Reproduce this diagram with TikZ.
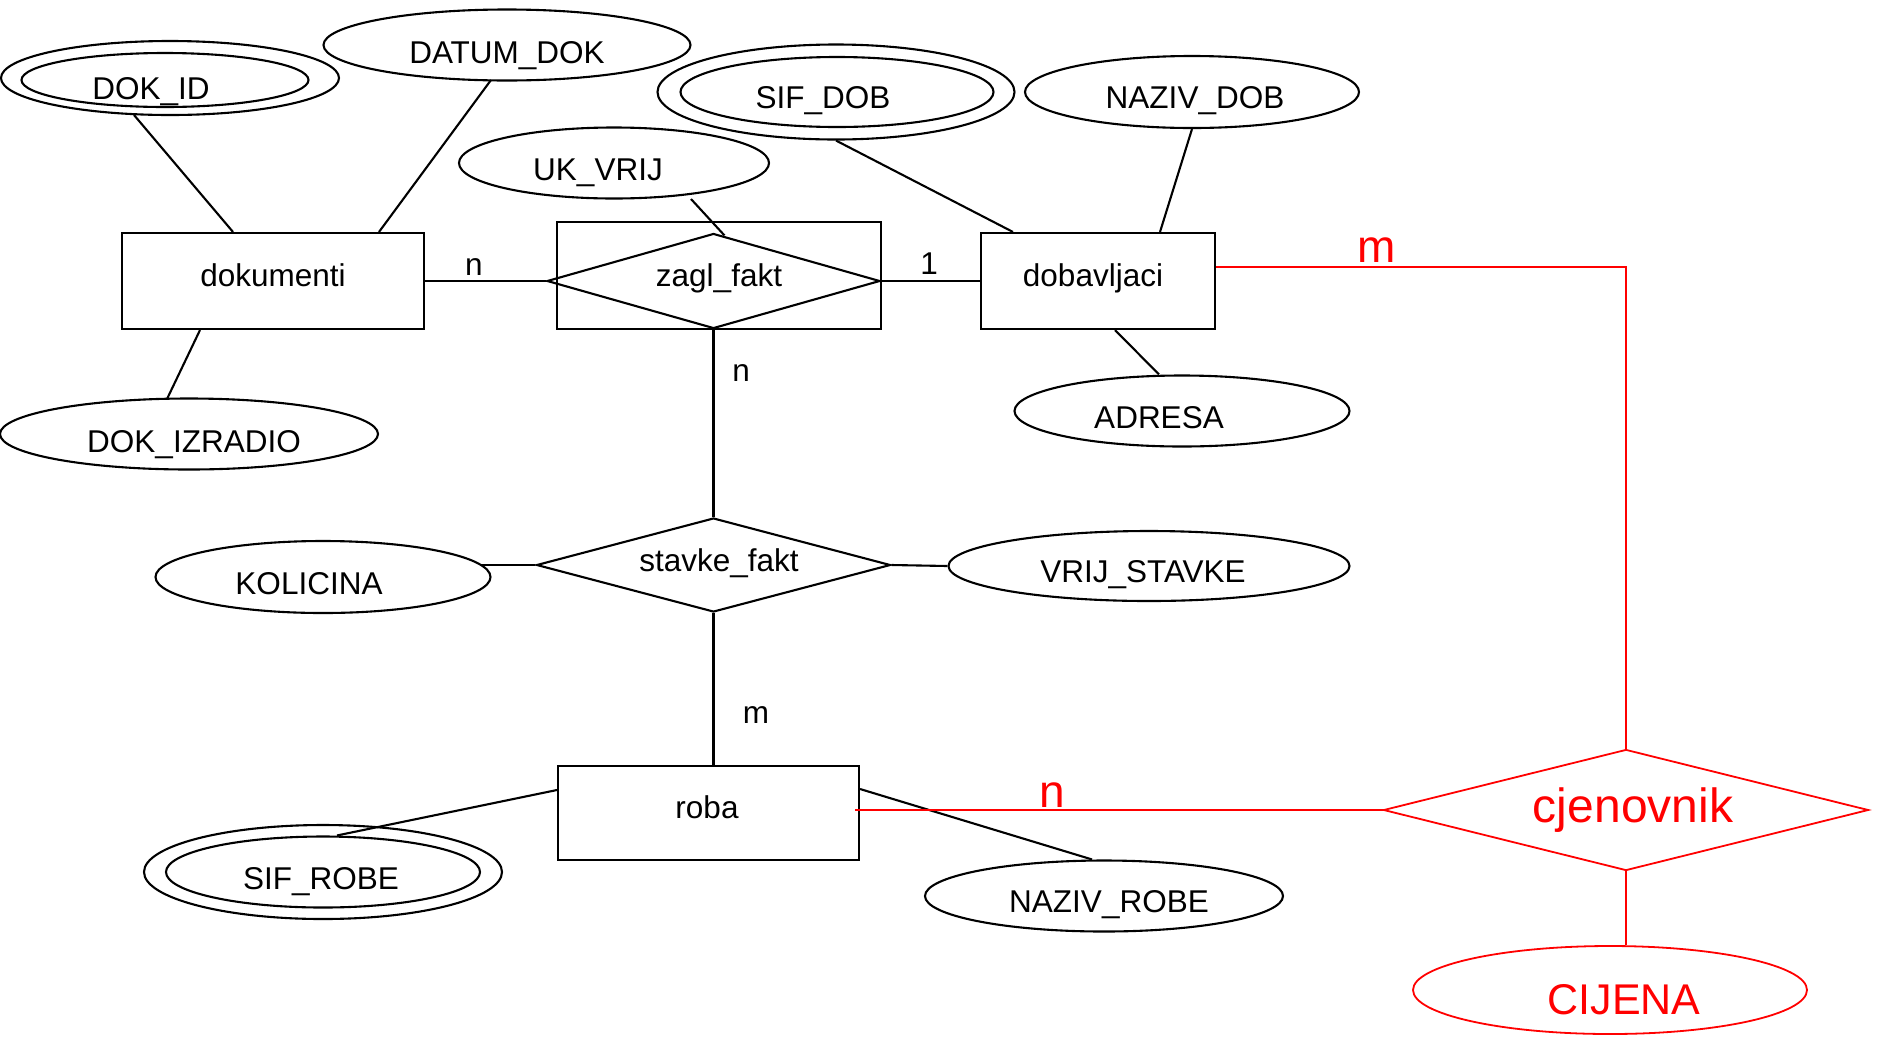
\documentclass[tikz,border=0pt]{standalone}
\usepackage{fontspec}
\setmainfont{Liberation Sans}
\usetikzlibrary{shapes.geometric,calc}
\newcommand\erblackfont{\fontsize{31.5}{36}\selectfont}
\newcommand\erredfont{\fontsize{46}{52}\selectfont}
\definecolor{erred}{RGB}{255,0,0}
\begin{document}
\begin{tikzpicture}[x=1pt,y=-1pt,
  ent/.style={draw, rectangle, inner sep=0pt, line width=2.1pt},
  attr/.style={draw, ellipse, inner sep=0pt, line width=2.1pt},
  rel/.style={draw, diamond, inner sep=0pt, line width=2.1pt},
  lbl/.style={anchor=base, inner sep=0pt, font=\erblackfont},
  rlbl/.style={anchor=base, inner sep=0pt, font=\erredfont, text=erred},
  link/.style={line width=2.1pt},
  rlink/.style={line width=1.8pt, draw=erred}]
\useasboundingbox (0,0) rectangle (1878,1037);

% entities
\node[ent, minimum width=302pt, minimum height=96pt] (dok) at (273,281) {};
\node[lbl] (dokT) at (273,286) {dokumenti};
\node[ent, minimum width=324pt, minimum height=107pt] (zaglr) at (719,275.5) {};
\node[rel, minimum width=333pt, minimum height=95pt] (zagl) at (713.5,281) {};
\node[lbl] (zaglT) at (719,286) {zagl\_fakt};
\node[ent, minimum width=234pt, minimum height=96pt] (dob) at (1098,281) {};
\node[lbl] (dobT) at (1093,286) {dobavljaci};
\node[ent, minimum width=301pt, minimum height=94pt] (roba) at (708.5,813) {};
\node[lbl] (robaT) at (707,818) {roba};
\node[rel, minimum width=354pt, minimum height=94pt] (stavke) at (713.5,565) {};
\node[lbl] (stavkeT) at (719,571) {stavke\_fakt};
\node[rel, draw=erred, line width=1.8pt, minimum width=485pt, minimum height=121pt] (cjen) at (1626,810) {};
\node[rlbl, font=\fontsize{48}{54}\selectfont] (cjenT) at (1633,822) {cjenovnik};

% attributes
\node[attr, minimum width=338pt, minimum height=74pt] (dokid) at (170,78) {};
\node[attr, minimum width=287pt, minimum height=54pt] (dokidi) at (165,80) {};
\node[lbl] (dokidT) at (151,99) {DOK\_ID};
\node[attr, minimum width=367pt, minimum height=71pt] (datum) at (507,45) {};
\node[lbl] (datumT) at (507,63) {DATUM\_DOK};
\node[attr, minimum width=310pt, minimum height=71pt] (ukvrij) at (614,163) {};
\node[lbl] (ukvrijT) at (598,180) {UK\_VRIJ};
\node[attr, minimum width=378pt, minimum height=71pt] (dokizr) at (189,434) {};
\node[lbl] (dokizrT) at (194,452) {DOK\_IZRADIO};
\node[attr, minimum width=357pt, minimum height=95pt] (sifdob) at (836,92) {};
\node[attr, minimum width=313pt, minimum height=70pt] (sifdobi) at (837,92) {};
\node[lbl] (sifdobT) at (823,108) {SIF\_DOB};
\node[attr, minimum width=334pt, minimum height=72pt] (nazivdob) at (1192,92) {};
\node[lbl] (nazivdobT) at (1195,108) {NAZIV\_DOB};
\node[attr, minimum width=335pt, minimum height=71pt] (adresa) at (1182,411) {};
\node[lbl] (adresaT) at (1159,428) {ADRESA};
\node[attr, minimum width=335pt, minimum height=72pt] (kolicina) at (323,577) {};
\node[lbl] (kolicinaT) at (309,594) {KOLICINA};
\node[attr, minimum width=401pt, minimum height=70pt] (vrijst) at (1149,566) {};
\node[lbl] (vrijstT) at (1143,582) {VRIJ\_STAVKE};
\node[attr, minimum width=358pt, minimum height=94pt] (sifrobe) at (323,872) {};
\node[attr, minimum width=314pt, minimum height=71pt] (sifrobei) at (323,872) {};
\node[lbl] (sifrobeT) at (321,889) {SIF\_ROBE};
\node[attr, minimum width=358pt, minimum height=71pt] (nazivrobe) at (1104,896) {};
\node[lbl] (nazivrobeT) at (1109,912) {NAZIV\_ROBE};
\node[attr, draw=erred, line width=1.8pt, minimum width=394pt, minimum height=88pt] (cijena) at (1610,990) {};
\node[rlbl, font=\fontsize{43}{48}\selectfont] (cijenaT) at (1624,1014) {CIJENA};

% black connectors
\draw[link] ($(dokid.center)+(-36,37)$) -- ($(dok.north)+(-40,0)$);
\draw[link] ($(datum.center)+(-16,35)$) -- ($(dok.north)+(106,0)$);
\draw[link] ($(dok.south)+(-73,0)$) -- ($(dokizr.center)+(-22,-35)$);
\draw[link] (dok.east) -- (zagl.west);
\draw[link] ($(ukvrij.center)+(77,36)$) -- ($(zagl.north)+(11,3)$);
\draw[link] (zagl.east) -- (dob.west);
\draw[link] (sifdob.south) -- ($(dob.north west)+(33,0)$);
\draw[link] (nazivdob.south) -- ($(dob.north)+(62,0)$);
\draw[link] ($(dob.south)+(17,0)$) -- ($(adresa.north)+(-23,0)$);
\draw[link] (zagl.south) -- (stavke.north);
\draw[link] ($(kolicina.center)+(158,-12)$) -- (stavke.west);
\draw[link] (stavke.east) -- (vrijst.west);
\draw[link] (stavke.south) -- (stavke.south |- roba.north);
\draw[link] ($(roba.west)+(0,-23)$) -- ($(sifrobei.north)+(14,0)$);
\draw[link] ($(roba.east)+(0,-24)$) -- ($(nazivrobe.north)+(-12,0)$);

% red connectors
\draw[rlink] ($(roba.east)+(-5,-3)$) -- (cjen.west);
\draw[rlink] ($(dob.east)+(0,-14)$) -| (cjen.north);
\draw[rlink] (cjen.south) -- (cjen.south |- cijena.north);

% cardinalities
\node[lbl] (c1) at (474,275) {n};
\node[lbl] (c2) at (929,274) {1};
\node[lbl] (c3) at (741,381) {n};
\node[lbl] (c4) at (756,723) {m};
\node[rlbl] (c5) at (1052,807) {n};
\node[rlbl] (c6) at (1377,262) {m};
\end{tikzpicture}
\end{document}
